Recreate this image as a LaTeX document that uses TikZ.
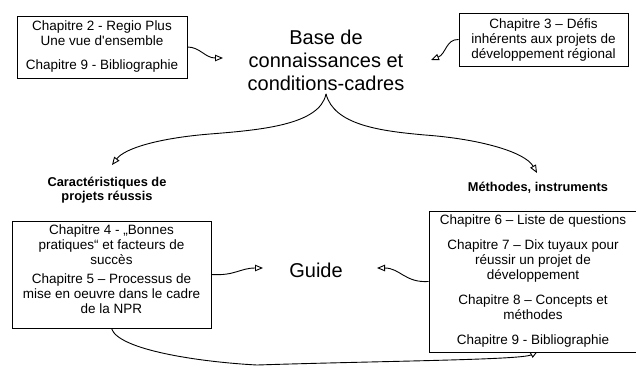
\documentclass[tikz,border=0pt]{standalone}
\usepackage{fontspec}
\setmainfont{Liberation Sans}
\usetikzlibrary{arrows.meta,shadows,backgrounds}

\begin{document}
\begin{tikzpicture}[x=1pt, y=-1pt,
  block/.style={draw, fill=white, line width=0.8pt, align=center, font=\fontsize{13.5}{15}\selectfont,
    drop shadow={shadow xshift=1.2pt, shadow yshift=-1.2pt, opacity=0.5}},
  topic/.style={align=center, font=\fontsize{20}{23}\selectfont},
  heading/.style={align=center, font=\fontsize{12.8}{14}\selectfont\bfseries},
  link/.style={-{Triangle[open, length=8pt, width=6.5pt]}, line width=0.9pt}]

  \useasboundingbox (0,0) rectangle (636,367);

  % Main topics
  \node[topic] (base) at (326,60) {Base de\\connaissances et\\conditions-cadres};
  \node[topic] (guide) at (316,270) {Guide};

  % Headings
  \node[heading] (succ) at (107,190) {Caractéristiques de\\projets réussis};
  \node[heading] (meth) at (538,188) {Méthodes, instruments};

  % Chapter boxes
  \node[block, minimum width=170pt, minimum height=62pt] (ch2) at (102,47)
    {Chapitre 2 - Regio Plus\\Une vue d\textquotesingle ensemble\\[9pt]Chapitre 9 - Bibliographie};
  \node[block, minimum width=169pt, minimum height=53pt] (ch3) at (543.5,39.5)
    {Chapitre 3 – Défis\\inhérents aux projets de\\développement régional};
  \node[block, minimum width=199pt, minimum height=107pt] (ch45) at (111.5,274.5)
    {Chapitre 4 - „Bonnes\\pratiques“ et facteurs de\\succès\\[4pt]Chapitre 5 – Processus de\\mise en oeuvre dans le cadre\\de la NPR\rule[-11pt]{0pt}{0pt}};
  \node[block, minimum width=208pt, minimum height=141pt] (ch69) at (533,281.5)
    {Chapitre 6 – Liste de questions\\[10pt]Chapitre 7 – Dix tuyaux pour\\réussir un projet de\\développement\\[10pt]Chapitre 8 – Concepts et\\méthodes\\[10pt]Chapitre 9 - Bibliographie};

  % Arrow ends
  \coordinate (ch2-tip) at (223,58);
  \coordinate (ch3-tip) at (431,60);
  \coordinate (succ-tip) at (112,165);
  \coordinate (meth-tip) at (537,173);
  \coordinate (guide-l) at (263,268);
  \coordinate (guide-r) at (377,268);
  \coordinate (ch69-tip) at (538,351);

  \begin{scope}[on background layer]
  % into the base
  \draw[link] (ch2.east) .. controls (200,47) and (205,58) .. (ch2-tip);
  \draw[link] (ch3.west) .. controls (446,39) and (446,54) .. (ch3-tip);

  % fork below the base
  \draw[link] (base.south) .. controls (320,125) and (260,130) .. (210,134)
    .. controls (160,138) and (125,148) .. (succ-tip);
  \draw[link] (base.south) .. controls (334,125) and (380,131) .. (425,135)
    .. controls (480,139) and (525,152) .. (meth-tip);

  % into the guide
  \draw[link] (ch45.east) .. controls (235,276) and (240,268) .. (guide-l);
  \draw[link] (ch69.west) .. controls (405,283) and (400,268) .. (guide-r);

  % bottom link
  \draw[link] (ch45.south) .. controls (118,350) and (200,362) .. (257,365)
    .. controls (380,361) and (522,360) .. (ch69-tip);
  \end{scope}

\end{tikzpicture}
\end{document}
